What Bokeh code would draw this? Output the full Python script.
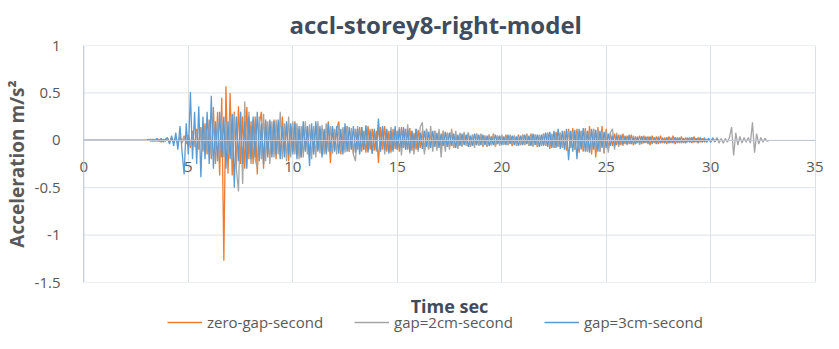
from bokeh.plotting import figure
from bokeh.layouts import column
from bokeh.models import Range1d, NumeralTickFormatter, Legend, LegendItem, Label, Span
from bokeh.embed import file_html
from bokeh.resources import INLINE

START_TIME = 3.0
STEP = 0.1

ZERO_GAP = [
    0, 0, 0.01, -0.01, 0.01, -0.01, 0.01, -0.02, 0.01, -0.01,
    0.02, -0.02, 0.03, -0.02, 0.03, -0.04, 0.04, -0.03, 0.05, -0.04,
    0.06, -0.08, 0.1, -0.07, 0.12, -0.1, 0.14, -0.12, 0.18, -0.15,
    0.22, -0.2, 0.35, -0.25, 0.3, -0.37, 0.45, -1.27, 0.57, -0.35,
    0.5, -0.37, 0.3, -0.28, 0.36, -0.25, 0.25, -0.3, 0.35, -0.2,
    0.2, -0.25, 0.25, -0.36, 0.18, 0.3, -0.3, 0.22, -0.18, 0.2,
    -0.15, 0.22, -0.2, 0.15, -0.18, 0.25, -0.12, 0.18, -0.22, 0.15,
    -0.12, 0.2, -0.15, 0.12, -0.18, 0.15, -0.1, 0.14, -0.16, 0.12,
    -0.12, 0.15, -0.1, 0.12, -0.15, 0.1, -0.12, 0.2, -0.24, 0.14,
    -0.1, 0.12, 0.2, -0.15, 0.12, -0.1, 0.15, -0.12, 0.1, -0.14,
    0.12, -0.1, 0.14, -0.12, 0.1, -0.13, 0.15, -0.1, 0.12, -0.11,
    0.1, -0.24, 0.14, -0.1, 0.15, -0.12, 0.1, -0.13, 0.12, -0.09,
    0.1, -0.12, 0.14, -0.08, 0.12, -0.1, 0.13, -0.11, 0.08, -0.1,
    0.11, -0.08, 0.1, -0.12, 0.12, -0.09, 0.08, -0.07, 0.1, -0.08,
    0.08, -0.09, 0.1, -0.06, 0.08, -0.07, 0.09, -0.08, 0.06, -0.07,
    0.07, -0.06, 0.07, -0.05, 0.08, -0.07, 0.06, -0.05, 0.07, -0.06,
    0.06, -0.07, 0.05, -0.07, 0.06, -0.05, 0.07, -0.06, 0.05, -0.04,
    0.05, -0.04, 0.06, -0.05, 0.04, -0.06, 0.05, -0.04, 0.06, -0.05,
    0.06, -0.05, 0.07, -0.06, 0.07, -0.05, 0.06, -0.07, 0.05, -0.06,
    0.07, -0.06, 0.08, -0.09, 0.06, -0.08, 0.09, -0.07, 0.08, -0.08,
    0.1, -0.11, 0.12, -0.08, 0.13, -0.1, 0.12, -0.13, 0.1, -0.12,
    0.13, -0.12, 0.15, -0.15, 0.12, -0.18, 0.14, -0.12, 0.15, -0.14,
    0.12, -0.1, 0.08, -0.06, 0.07, -0.05, 0.06, -0.05, 0.07, -0.04,
    0.05, -0.04, 0.06, -0.05, 0.04, -0.03, 0.05, -0.04, 0.05, -0.03,
    0.04, -0.05, 0.05, -0.03, 0.04, -0.04, 0.05, -0.03, 0.03, -0.04,
    0.04, -0.03, 0.05, -0.04, 0.03, -0.03, 0.04, -0.03, 0.03, -0.02,
    0.03, -0.03, 0.04, -0.02, 0.03, -0.02, 0.02, -0.02, 0.01, 0,
    0,
]

GAP_2CM = [
    0, 0, 0.01, -0.01, 0, 0.01, -0.01, 0.01, -0.01, 0.01,
    0.01, -0.02, 0.02, -0.02, 0.03, -0.02, 0.03, -0.03, 0.04, -0.03,
    0.05, -0.06, 0.08, -0.07, 0.1, -0.09, 0.12, -0.1, 0.14, -0.12,
    0.15, -0.14, 0.18, -0.12, 0.2, -0.16, 0.22, -0.18, 0.2, -0.15,
    0.25, -0.2, 0.28, -0.3, -0.54, 0.3, -0.46, 0.41, -0.2, 0.3,
    -0.25, 0.22, -0.2, -0.29, 0.25, -0.2, 0.28, -0.22, 0.2, -0.25,
    0.2, -0.18, 0.22, -0.15, 0.3, -0.2, 0.18, -0.22, 0.25, -0.18,
    0.2, -0.15, 0.18, -0.2, 0.15, -0.18, 0.2, -0.15, 0.17, -0.2,
    0.15, -0.18, 0.2, -0.14, 0.16, -0.15, 0.18, -0.12, 0.15, -0.14,
    0.12, -0.15, 0.16, -0.12, 0.14, -0.13, 0.15, -0.12, 0.13, -0.15,
    -0.22, 0.15, -0.12, 0.14, -0.1, 0.16, -0.13, 0.12, -0.14, 0.1,
    -0.12, 0.14, -0.1, 0.12, -0.15, 0.1, -0.12, 0.14, -0.1, 0.12,
    -0.1, 0.14, -0.16, 0.12, -0.1, 0.17, -0.14, 0.1, -0.15, 0.12,
    -0.12, 0.14, 0.19, -0.15, 0.12, -0.1, 0.15, -0.12, 0.1, -0.11,
    0.12, -0.18, 0.1, -0.12, 0.08, -0.1, 0.12, -0.08, 0.1, -0.09,
    0.08, -0.07, 0.09, -0.06, 0.08, -0.07, 0.06, -0.08, 0.07, -0.06,
    0.07, -0.06, 0.05, -0.07, 0.06, -0.05, 0.06, -0.07, 0.05, -0.06,
    0.06, -0.05, 0.04, -0.05, 0.06, -0.04, 0.05, -0.06, 0.04, -0.05,
    0.06, -0.05, 0.06, -0.06, 0.05, -0.07, 0.06, -0.05, 0.06, -0.05,
    0.07, -0.06, 0.08, -0.06, 0.07, -0.08, 0.06, -0.07, 0.08, -0.07,
    0.08, -0.07, 0.1, -0.08, 0.09, -0.1, 0.07, -0.09, 0.1, -0.08,
    0.1, -0.12, 0.08, -0.1, 0.12, -0.1, 0.11, -0.12, 0.1, -0.13,
    0.1, -0.13, 0.08, 0.12, -0.1, 0.08, -0.07, 0.06, -0.06, 0.05,
    -0.05, 0.06, -0.04, 0.05, -0.04, 0.04, -0.05, 0.04, -0.03, 0.04,
    -0.04, 0.03, -0.04, 0.03, -0.03, 0.04, -0.03, 0.03, -0.03, 0.03,
    -0.03, 0.03, -0.02, 0.03, -0.03, 0.02, -0.03, 0.02, -0.02, 0.03,
    -0.02, 0.03, -0.02, 0.02, -0.03, 0.02, -0.02, 0.03, -0.02, 0.02,
    -0.02, 0.03, -0.02, 0.03, -0.03, 0.02, -0.03, 0.02, -0.02, 0.03,
    0.14, -0.16, 0.08, -0.05, 0.04, -0.03, 0.03, -0.02, 0.03, -0.03,
    0.19, -0.13, 0.07, -0.04, 0.03, -0.02, 0.02, -0.01, 0,
]

GAP_3CM = [
    0, 0.01, -0.01, 0.01, -0.01, 0.02, -0.01, 0.02, -0.02, 0.01,
    0.03, -0.04, 0.05, -0.06, 0.08, -0.1, 0.15, -0.12, -0.36, 0.18,
    -0.15, 0.51, -0.2, 0.3, -0.25, 0.36, -0.39, 0.25, -0.2, 0.3,
    -0.25, 0.47, -0.3, 0.2, -0.22, 0.3, -0.18, 0.25, -0.3, 0.2,
    -0.2, 0.28, -0.5, 0.25, -0.22, 0.3, -0.25, 0.2, -0.3, 0.25,
    -0.2, 0.25, -0.18, 0.3, -0.22, 0.18, -0.25, 0.2, -0.15, 0.22,
    -0.18, 0.2, -0.15, 0.22, -0.2, 0.15, -0.18, 0.2, -0.15, 0.18,
    -0.15, 0.18, -0.2, 0.15, -0.18, 0.2, -0.12, 0.15, -0.27, 0.18,
    -0.15, 0.2, -0.12, 0.15, -0.18, 0.12, -0.15, 0.18, -0.12, 0.15,
    -0.12, 0.15, -0.14, 0.12, -0.15, 0.18, -0.12, 0.14, -0.1, 0.15,
    -0.13, 0.12, -0.15, 0.14, -0.1, 0.15, -0.12, 0.1, -0.14, 0.12,
    -0.1, 0.23, -0.12, 0.15, -0.1, 0.12, -0.14, 0.1, -0.12, 0.15,
    -0.1, 0.12, -0.08, 0.14, -0.1, 0.11, -0.12, 0.1, -0.08, 0.12,
    -0.1, 0.08, -0.09, 0.1, -0.07, 0.09, -0.08, 0.1, -0.07, 0.08,
    -0.08, 0.07, -0.06, 0.09, -0.07, 0.08, -0.06, 0.07, -0.08, 0.06,
    -0.06, 0.07, -0.05, 0.06, -0.07, 0.05, -0.06, 0.07, -0.05, 0.06,
    -0.05, 0.06, -0.05, 0.05, -0.06, 0.04, -0.05, 0.06, -0.04, 0.05,
    -0.05, 0.04, -0.05, 0.06, -0.04, 0.05, -0.05, 0.04, -0.06, 0.05,
    -0.05, 0.06, -0.04, 0.05, -0.06, 0.07, -0.05, 0.06, -0.07, 0.06,
    -0.06, 0.08, -0.07, 0.09, -0.08, 0.1, -0.08, 0.12, -0.09, 0.1,
    -0.1, 0.12, -0.21, 0.1, -0.12, 0.11, -0.2, 0.12, -0.1, 0.13,
    -0.12, 0.1, -0.13, 0.12, -0.1, 0.11, -0.12, 0.1, -0.08, 0.09,
    -0.08, 0.07, -0.06, 0.05, -0.06, 0.05, -0.04, 0.05, -0.04, 0.04,
    -0.04, 0.05, -0.04, 0.03, -0.04, 0.03, -0.03, 0.04, -0.03, 0.03,
    -0.03, 0.04, -0.03, 0.03, -0.04, 0.03, -0.03, 0.02, -0.03, 0.03,
    -0.03, 0.02, -0.03, 0.03, -0.02, 0.03, -0.02, 0.02, -0.03, 0.02,
    -0.02, 0.03, -0.02, 0.02, -0.02, 0.03, -0.02, 0.02, -0.02, 0.02,
    -0.02, 0.02, -0.01, 0.01, 0,
]

SERIES_NAMES = ["zero-gap-second", "gap=2cm-second", "gap=3cm-second"]
SERIES_COLORS = ["#ED7D31", "#A5A5A5", "#5B9BD5"]
X_TICKS = [0, 5, 10, 15, 20, 25, 30, 35]
Y_TICKS = [-1.5, -1, -0.5, 0, 0.5, 1]
X_MIN, X_MAX = 0, 35
Y_MIN, Y_MAX = -1.5, 1


def times_for(vals):
    return [0.0] + [round(START_TIME + i * STEP, 2) for i in range(len(vals))]


SERIES = [ZERO_GAP, GAP_2CM, GAP_3CM]

FONT = "Open Sans"
TEXT_GRAY = "#595959"
TITLE_COLOR = "#404B5C"
GRID = "#DCE1E9"
AXIS = "#BFC9D8"
W = 823
PAD = 0.4  # small margin so the end tick labels are not cut

# ---------------- main chart ----------------
p = figure(
    width=W, height=292,
    x_range=Range1d(X_MIN - PAD, X_MAX + PAD), y_range=Range1d(Y_MIN, Y_MAX),
    output_backend="svg", toolbar_location=None,
    min_border_left=66, min_border_right=0, min_border_top=41, min_border_bottom=10,
)
p.outline_line_color = None
p.background_fill_color = "white"
p.border_fill_color = "white"

p.title.text = "accl-storey8-right-model"
p.title.align = "left"
p.title.offset = 214
p.title.text_font = FONT
p.title.text_font_size = "24px"
p.title.text_font_style = "bold"
p.title.text_color = TITLE_COLOR

# grid (horizontal lines limited to the 0..35 span, vertical lines at the x ticks)
p.ygrid.visible = False
p.segment(x0=X_MIN, x1=X_MAX, y0=Y_TICKS, y1=Y_TICKS, line_color=GRID, line_width=1, level="underlay")
p.xgrid.grid_line_color = GRID

for vals, color in zip(SERIES, SERIES_COLORS):
    p.line(times_for(vals), [0.0] + vals, line_color=color, line_width=1.3)

p.xaxis.ticker = X_TICKS
p.xaxis.fixed_location = 0
p.xaxis.bounds = (X_MIN, X_MAX)
p.yaxis.ticker = Y_TICKS
p.yaxis.formatter = NumeralTickFormatter(format="0.[0]")
for ax in (p.xaxis, p.yaxis):
    ax.axis_line_color = AXIS
    ax.axis_line_width = 1
    ax.major_tick_line_color = None
    ax.minor_tick_line_color = None
    ax.major_label_text_font = FONT
    ax.major_label_text_font_size = "15px"
    ax.major_label_text_color = TEXT_GRAY
p.xaxis.major_label_standoff = 16
p.yaxis.major_label_standoff = 9
p.yaxis.axis_line_color = None
p.add_layout(Span(location=X_MIN, dimension="height", line_color=AXIS, line_width=1))
p.yaxis.axis_label = "Acceleration m/s²"
p.yaxis.axis_label_text_font = FONT
p.yaxis.axis_label_text_font_size = "19px"
p.yaxis.axis_label_text_font_style = "bold"
p.yaxis.axis_label_text_color = TEXT_GRAY
p.yaxis.axis_label_standoff = 2

# ---------------- bottom strip: x-axis title + legend (series drawn off-range, only the key shows) ----------------
STRIP_H = 40
lg = figure(
    width=W, height=STRIP_H, x_range=p.x_range, y_range=Range1d(100, 100 + STRIP_H),
    output_backend="svg", toolbar_location=None,
    x_axis_type=None, y_axis_type=None,
    min_border_left=0, min_border_right=0, min_border_top=0, min_border_bottom=0,
)
lg.outline_line_color = None
lg.grid.visible = False
lg.border_fill_color = "white"
leg_renderers = []
for vals, color in zip(SERIES, SERIES_COLORS):
    leg_renderers.append(lg.line(times_for(vals), [0.0] + vals, line_color=color, line_width=1.5))

lg.add_layout(Label(x=(X_MIN + X_MAX) / 2, y=100 + STRIP_H - 13, text="Time sec",
                    text_align="center", text_baseline="middle", text_font=FONT,
                    text_font_size="18px", text_font_style="bold", text_color=TITLE_COLOR))

legend = Legend(
    items=[LegendItem(label=n, renderers=[r]) for n, r in zip(SERIES_NAMES, leg_renderers)],
    orientation="horizontal", location=(92, 0),
    label_text_font=FONT, label_text_font_size="15px", label_text_color=TEXT_GRAY,
    glyph_width=35, glyph_height=14, label_height=16, label_standoff=5, spacing=31,
    padding=1, margin=0, border_line_color=None, background_fill_alpha=0,
)
lg.add_layout(legend, "center")

layout = column(p, lg, spacing=0)
open("out.html", "w").write(file_html(layout, INLINE))
